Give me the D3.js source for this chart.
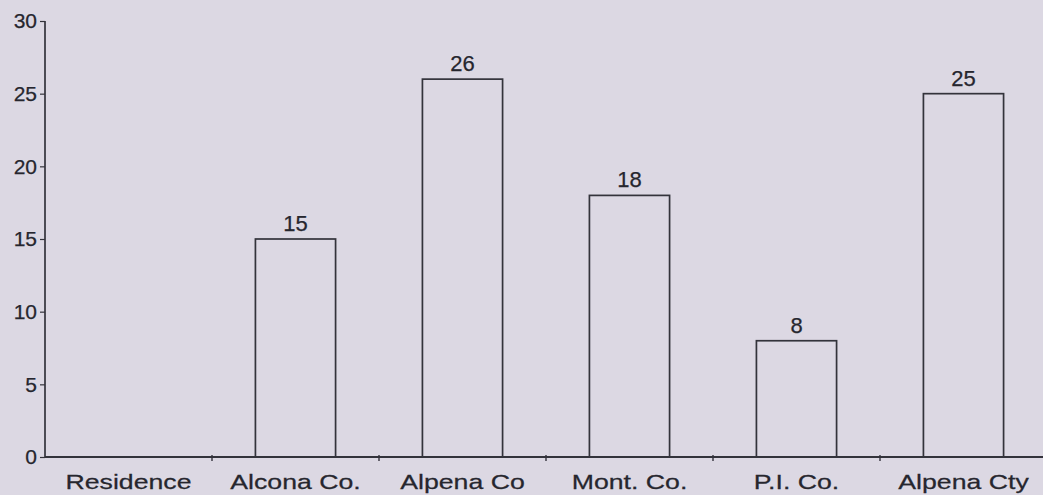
<!DOCTYPE html>
<html>
<head>
  <meta charset="utf-8">
  <title>Residence bar chart</title>
  <script src="https://cdn.jsdelivr.net/npm/d3@7"></script>
  <style>
    html, body { margin: 0; padding: 0; background: #dcd8e3; }
    svg { display: block; }
    text { font-family: "Liberation Sans", Arial, sans-serif; fill: #26262e; stroke: #26262e; stroke-width: 0.25px; }
  </style>
</head>
<body>
<svg id="chart" width="1043" height="495"></svg>
<script>
// values
var categories = ['Residence', 'Alcona Co.', 'Alpena Co', 'Mont. Co.', 'P.I. Co.', 'Alpena Cty'];
var counts = [null, 15, 26, 18, 8, 25];
var yTicks = [0, 5, 10, 15, 20, 25, 30];

var W = 1043, H = 495,
    plotL = 45, plotR = 1047, plotT = 21, plotB = 457,
    ink = '#33333b';

var svg = d3.select('#chart');

var x = d3.scaleBand()
    .domain(categories)
    .range([plotL, plotR])
    .padding(0);

var y = d3.scaleLinear()
    .domain([0, 30])
    .range([plotB, plotT]);

var barW = x.bandwidth() * 0.48;

// bars
var rows = categories.map(function (c, i) { return {cat: c, v: counts[i]}; })
    .filter(function (d) { return d.v != null; });

svg.selectAll('rect.bar')
    .data(rows)
  .enter().append('rect')
    .attr('class', 'bar')
    .attr('x', function (d) { return x(d.cat) + (x.bandwidth() - barW) / 2; })
    .attr('y', function (d) { return y(d.v); })
    .attr('width', barW)
    .attr('height', function (d) { return y(0) - y(d.v); })
    .attr('fill', 'none')
    .attr('stroke', ink)
    .attr('stroke-width', 1.7);

svg.selectAll('text.val')
    .data(rows)
  .enter().append('text')
    .attr('class', 'val')
    .attr('x', function (d) { return x(d.cat) + x.bandwidth() / 2; })
    .attr('y', function (d) { return y(d.v) - 8; })
    .attr('text-anchor', 'middle')
    .attr('font-size', 22)
    .text(function (d) { return d.v; });

// y axis
var yAxis = d3.axisLeft(y).tickValues(yTicks).tickSize(5).tickPadding(3);
var gy = svg.append('g').attr('transform', 'translate(' + plotL + ',0)').call(yAxis);
gy.select('.domain').attr('stroke', ink).attr('stroke-width', 1.7).attr('d', 'M0,' + plotT + 'V' + plotB);
gy.selectAll('.tick line').attr('stroke', ink).attr('stroke-width', 1.2);
gy.selectAll('.tick text')
    .attr('font-family', '"Liberation Sans", Arial, sans-serif')
    .attr('font-size', 21)
    .attr('fill', '#26262e');

// x axis: line, ticks between bands, stretched labels
svg.append('line')
    .attr('x1', plotL).attr('x2', W)
    .attr('y1', plotB).attr('y2', plotB)
    .attr('stroke', ink).attr('stroke-width', 2);

svg.selectAll('line.xtick')
    .data(categories.slice(1))
  .enter().append('line')
    .attr('class', 'xtick')
    .attr('x1', function (d) { return x(d); })
    .attr('x2', function (d) { return x(d); })
    .attr('y1', plotB - 2).attr('y2', plotB + 4)
    .attr('stroke', ink).attr('stroke-width', 1.4);

svg.selectAll('text.cat')
    .data(categories)
  .enter().append('text')
    .attr('class', 'cat')
    .attr('transform', function (d) {
      return 'translate(' + (x(d) + x.bandwidth() / 2) + ',' + 489 + ') scale(1.27,1)';
    })
    .attr('text-anchor', 'middle')
    .attr('font-size', 21)
    .text(function (d) { return d; });
</script>
</body>
</html>
